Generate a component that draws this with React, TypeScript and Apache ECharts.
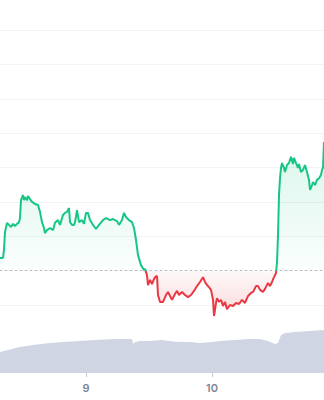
import React, { useEffect, useRef } from "react";
import * as echarts from "echarts";

// hours since day 8, 00:00
const priceHours = [
  7.62, 8.19, 8.38, 8.57, 8.95, 9.33, 9.72, 10.1, 10.48, 10.86, 11.24, 11.43, 11.62, 12.0, 12.19, 12.38, 12.76, 12.95, 13.34, 13.72,
  14.29, 14.86, 15.24, 15.62, 16.0, 16.19, 16.57, 17.15, 17.72, 18.1, 18.67, 19.05, 19.62, 20.0, 20.38, 20.76, 20.96, 21.34, 21.72, 21.91,
  22.29, 22.67, 23.24, 23.62, 24.0, 24.38, 24.77, 25.34, 25.91, 26.48, 27.24, 27.81, 28.58, 29.15, 29.91, 30.29, 30.86, 31.24, 31.62, 32.19,
  32.77, 33.15, 33.53, 33.91, 34.48, 35.05, 35.24, 35.62, 35.81, 36.2, 36.58, 36.96, 37.34, 37.53, 37.72, 38.1, 38.67, 39.24, 39.62, 40.01,
  40.39, 40.96, 41.34, 41.72, 42.29, 42.86, 43.43, 44.01, 44.58, 45.15, 45.72, 46.29, 46.67, 47.05, 47.43, 47.82, 48.2, 48.39, 48.77, 48.96,
  49.34, 49.72, 50.1, 50.48, 50.86, 51.44, 52.01, 52.58, 53.15, 53.72, 54.29, 54.86, 55.44, 55.82, 56.39, 56.77, 57.15, 57.72, 58.1, 58.67,
  59.06, 59.44, 59.82, 60.2, 60.39, 60.58, 60.77, 60.96, 61.15, 61.34, 61.72, 61.91, 62.29, 62.67, 63.06, 63.44, 63.63, 64.01, 64.39, 64.58,
  64.96, 65.34, 65.72, 66.1, 66.48, 66.68, 67.06, 67.25, 67.63, 68.01, 68.39, 68.77, 68.96, 69.15, 69.34,
];
const prices = [
  101.37, 101.37, 101.6, 102.12, 102.39, 102.33, 102.27, 102.36, 102.3, 102.36, 102.41, 102.53, 103.05, 103.2, 103.05, 103.14, 103.05, 103.17, 103.08, 103.0,
  102.94, 102.91, 102.71, 102.41, 102.24, 102.09, 102.18, 102.24, 102.18, 102.39, 102.47, 102.33, 102.62, 102.68, 102.71, 102.82, 102.41, 102.33, 102.33, 102.41,
  102.76, 102.41, 102.47, 102.36, 102.68, 102.68, 102.47, 102.33, 102.21, 102.33, 102.47, 102.53, 102.47, 102.5, 102.44, 102.33, 102.47, 102.68, 102.56, 102.47,
  102.41, 102.24, 101.89, 101.45, 101.16, 101.02, 101.05, 100.87, 100.58, 100.73, 100.61, 100.76, 100.84, 100.84, 100.29, 100.09, 100.09, 100.29, 100.38, 100.26,
  100.15, 100.32, 100.41, 100.29, 100.38, 100.29, 100.23, 100.29, 100.41, 100.55, 100.67, 100.81, 100.67, 100.58, 100.52, 100.44, 100.15, 99.68, 100.06, 100.2,
  100.09, 100.15, 99.97, 100.09, 99.88, 100.0, 99.97, 100.06, 100.03, 100.15, 100.06, 100.26, 100.35, 100.38, 100.55, 100.55, 100.44, 100.38, 100.47, 100.64,
  100.55, 100.67, 100.81, 100.93, 101.25, 102.04, 103.2, 103.69, 103.99, 104.13, 103.99, 103.87, 104.07, 104.13, 104.31, 104.1, 104.28, 104.13, 103.99, 104.1,
  103.87, 103.93, 104.07, 103.87, 103.64, 103.35, 103.49, 103.58, 103.49, 103.64, 103.69, 103.78, 103.93, 103.99, 104.74,
];
const volumeHours = [
  7.62, 11.43, 13.91, 17.15, 20.38, 23.43, 26.67, 29.91, 32.39, 32.77, 32.96, 33.34, 34.29, 36.2, 38.48, 40.96, 43.81, 45.72, 48.01, 49.53,
  52.39, 55.25, 57.15, 58.67, 60.01, 60.58, 61.15, 61.91, 63.82, 66.68, 69.34,
];
const volumes = [
  21, 26, 28, 30, 31.3, 32.3, 33.3, 34, 34, 34, 29, 31, 32, 32, 33, 31.3, 31, 30, 31, 32,
  33, 34, 34, 32, 29, 30, 38, 40, 41, 42, 43,
];
const dayTicks = [24, 48];
const dayLabels = ["9", "10"];
const baseline = 101;

const GREEN = "#16c784";
const RED = "#ea3943";

export default function App() {
  const ref = useRef<HTMLDivElement>(null);
  useEffect(() => {
    const chart = echarts.init(ref.current!, null, { renderer: "svg" });
    const priceData = priceHours.map((h, i) => [h, prices[i]]);
    const volData = volumeHours.map((h, i) => [h, volumes[i]]);
    const xMin = priceHours[0];
    const xMax = priceHours[priceHours.length - 1];
    chart.setOption({
      animation: false,
      grid: [
        { left: 0, right: 0, top: 30, bottom: 95 },
        { left: 0, right: 0, top: 313, bottom: 27 },
      ],
      xAxis: [
        { type: "value", gridIndex: 0, min: xMin, max: xMax, show: false, splitLine: { show: false } },
        {
          type: "value",
          gridIndex: 1,
          min: xMin,
          max: xMax,
          axisLine: { show: false },
          splitLine: { show: false },
          axisTick: { show: true, customValues: dayTicks, length: 4, lineStyle: { color: "#c5c9d2" } },
          axisLabel: {
            customValues: dayTicks,
            formatter: (v: number) => dayLabels[dayTicks.indexOf(v)] ?? "",
            color: "#7f8696",
            fontSize: 11,
            fontWeight: 600,
            fontFamily: "Inter",
            margin: 9,
          },
        },
      ],
      yAxis: [
        {
          type: "value",
          gridIndex: 0,
          min: 100,
          max: 108,
          interval: 1,
          axisLabel: { show: false },
          axisLine: { show: false },
          axisTick: { show: false },
          splitLine: { show: true, lineStyle: { color: "#f1f3f6", width: 1 } },
        },
        { type: "value", gridIndex: 1, min: 0, max: 60, show: false, splitLine: { show: false } },
      ],
      visualMap: {
        show: false,
        type: "piecewise",
        seriesIndex: 0,
        dimension: 1,
        pieces: [
          { gt: baseline, lte: 200, color: GREEN },
          { gt: 0, lte: baseline, color: RED },
        ],
      },
      series: [
        {
          type: "line",
          xAxisIndex: 0,
          yAxisIndex: 0,
          data: priceData,
          showSymbol: false,
          symbol: "none",
          clip: false,
          z: 5,
          lineStyle: { width: 2 },
          areaStyle: {
            origin: baseline,
            opacity: 1,
            color: new echarts.graphic.LinearGradient(
              0, 140, 0, 318,
              [
                { offset: 0, color: "rgba(22,199,132,0.16)" },
                { offset: 0.73, color: "rgba(22,199,132,0.02)" },
                { offset: 0.73, color: "rgba(234,57,67,0.03)" },
                { offset: 1, color: "rgba(234,57,67,0.2)" },
              ],
              true
            ),
          },
          markLine: {
            silent: true,
            symbol: "none",
            label: { show: false },
            lineStyle: { color: "#b9bdc7", type: [2, 3], width: 1 },
            data: [{ yAxis: baseline }],
          },
        },
        {
          type: "line",
          xAxisIndex: 1,
          yAxisIndex: 1,
          data: volData,
          showSymbol: false,
          symbol: "none",
          lineStyle: { width: 0 },
          itemStyle: { color: "#cfd5e2" },
          areaStyle: { color: "#cfd5e2", opacity: 1 },
        },
      ],
    });
    return () => chart.dispose();
  }, []);
  return <div ref={ref} style={{ position: "absolute", left: 0, top: 0, width: 324, height: 400 }} />;
}
